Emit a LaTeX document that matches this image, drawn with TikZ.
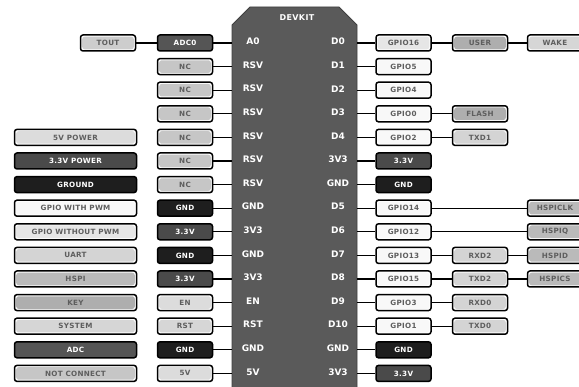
\documentclass[tikz,border=0pt]{standalone}
\usepackage{fontspec}
\setmainfont{DejaVu Sans}
\newfontfamily\boxfont{DejaVu Sans}[LetterSpace=4]
\definecolor{boardc}{HTML}{5A5A5A}
\definecolor{adcc}{HTML}{555555}
\definecolor{vtc}{HTML}{4A4A4A}
\definecolor{gndc}{HTML}{1E1E1E}
\definecolor{ncc}{HTML}{C6C6C6}
\definecolor{vfc}{HTML}{DCDCDC}
\definecolor{gpioc}{HTML}{F8F8F8}
\definecolor{gpionc}{HTML}{E6E6E6}
\definecolor{uartc}{HTML}{D4D4D4}
\definecolor{hspic}{HTML}{BABABA}
\definecolor{keyc}{HTML}{AEAEAE}
\definecolor{sysc}{HTML}{D6D6D6}
\definecolor{toutc}{HTML}{CDCDCD}
\definecolor{txtc}{HTML}{5E5E5E}
\tikzset{
  box/.style={draw=black, line width=1.5pt, rounded corners=2.5pt,
    minimum width=55pt, minimum height=16pt, inner sep=0pt,
    font=\boxfont\fontsize{7.2}{8}\selectfont\bfseries, text=txtc},
  rim/.style={box, fill=white, path picture={\fill[#1]
    ([shift={(1.7pt,-1.7pt)}]path picture bounding box.north west) rectangle
    ([shift={(-1.7pt,1.7pt)}]path picture bounding box.south east);}},
  dark/.style={box, fill=#1, text=white},
  adcbox/.style={dark=adcc},
  vtbox/.style={dark=vtc},
  gndbox/.style={dark=gndc},
  ncbox/.style={rim=ncc},
  vfbox/.style={rim=vfc},
  gpiobox/.style={rim=gpioc},
  gpionbox/.style={rim=gpionc},
  uartbox/.style={rim=uartc},
  hspibox/.style={rim=hspic},
  keybox/.style={rim=keyc},
  sysbox/.style={rim=sysc},
  toutbox/.style={rim=toutc},
  legend/.style={minimum width=122pt},
  pin/.style={text=white, font=\fontsize{9}{10}\selectfont\bfseries, inner sep=0pt},
  wire/.style={line width=1.3pt, black},
}
\begin{document}
\begin{tikzpicture}[x=1pt, y=-1pt]
\useasboundingbox (0,0) rectangle (579,387);
\clip (0,0) rectangle (579,387);
\fill[white] (0,0) rectangle (579,387);
% board
\filldraw[fill=boardc, draw=black!75, line width=0.8pt]
  (232,25) -- (250,7) -- (339,7) -- (357,25) -- (357,395) -- (232,395) -- cycle;
\coordinate (bl) at (232,0);
\coordinate (br) at (357,0);
\node[pin, font=\boxfont\fontsize{8}{9}\selectfont\bfseries] (title) at (297,18) {DEVKIT};
% pin labels
\foreach \i/\t in {0/A0,1/RSV,2/RSV,3/RSV,4/RSV,5/RSV,6/RSV,7/GND,8/3V3,9/GND,10/3V3,11/EN,12/RST,13/GND,14/5V}
  \node[pin] (PL\i) at (253,{41.5+23.6*\i}) {\t};
\foreach \i/\t in {0/D0,1/D1,2/D2,3/D3,4/D4,5/3V3,6/GND,7/D5,8/D6,9/D7,10/D8,11/D9,12/D10,13/GND,14/3V3}
  \node[pin] (PR\i) at (338,{41.5+23.6*\i}) {\t};
% left column
\foreach \i/\t/\s in {0/ADC0/adcbox,1/NC/ncbox,2/NC/ncbox,3/NC/ncbox,4/NC/ncbox,5/NC/ncbox,6/NC/ncbox,7/GND/gndbox,8/3.3V/vtbox,9/GND/gndbox,10/3.3V/vtbox,11/EN/vfbox,12/RST/sysbox,13/GND/gndbox,14/5V/vfbox}{
  \node[\s] (L\i) at (185,{43+23.6*\i}) {\t};
  \draw[wire] (L\i.east) -- (L\i.east -| bl);
}
\node[toutbox] (T0) at (108,43) {TOUT};
\draw[wire] (T0.east) -- (L0.west);
% right column 1
\foreach \i/\t/\s in {0/GPIO16/gpionbox,1/GPIO5/gpiobox,2/GPIO4/gpiobox,3/GPIO0/gpiobox,4/GPIO2/gpiobox,5/3.3V/vtbox,6/GND/gndbox,7/GPIO14/gpiobox,8/GPIO12/gpiobox,9/GPIO13/gpiobox,10/GPIO15/gpiobox,11/GPIO3/gpiobox,12/GPIO1/gpiobox,13/GND/gndbox,14/3.3V/vtbox}{
  \node[\s] (R\i) at (403.5,{43+23.6*\i}) {\t};
  \draw[wire] (R\i.west -| br) -- (R\i.west);
}
% right column 2
\foreach \i/\t/\s in {0/USER/keybox,3/FLASH/keybox,4/TXD1/uartbox,9/RXD2/uartbox,10/TXD2/uartbox,11/RXD0/uartbox,12/TXD0/uartbox}{
  \node[\s] (S\i) at (480,{43+23.6*\i}) {\t};
  \draw[wire] (R\i.east) -- (S\i.west);
}
% right column 3
\node[sysbox] (U0) at (555,43) {WAKE};
\draw[wire] (S0.east) -- (U0.west);
\node[hspibox] (U7) at (555,{43+23.6*7}) {HSPICLK};
\draw[wire] (R7.east) -- (U7.west);
\node[hspibox] (U8) at (555,{43+23.6*8}) {HSPIQ};
\draw[wire] (R8.east) -- (U8.west);
\node[hspibox] (U9) at (555,{43+23.6*9}) {HSPID};
\draw[wire] (S9.east) -- (U9.west);
\node[hspibox] (U10) at (555,{43+23.6*10}) {HSPICS};
\draw[wire] (S10.east) -- (U10.west);
% legend
\node[vfbox, legend] (G4) at (75.5,{43+23.6*4}) {5V POWER};
\node[vtbox, legend] (G5) at (75.5,{43+23.6*5}) {3.3V POWER};
\node[gndbox, legend] (G6) at (75.5,{43+23.6*6}) {GROUND};
\node[gpiobox, legend] (G7) at (75.5,{43+23.6*7}) {GPIO WITH PWM};
\node[gpionbox, legend] (G8) at (75.5,{43+23.6*8}) {GPIO WITHOUT PWM};
\node[uartbox, legend] (G9) at (75.5,{43+23.6*9}) {UART};
\node[hspibox, legend] (G10) at (75.5,{43+23.6*10}) {HSPI};
\node[keybox, legend] (G11) at (75.5,{43+23.6*11}) {KEY};
\node[sysbox, legend] (G12) at (75.5,{43+23.6*12}) {SYSTEM};
\node[adcbox, legend] (G13) at (75.5,{43+23.6*13}) {ADC};
\node[ncbox, legend] (G14) at (75.5,{43+23.6*14}) {NOT CONNECT};
\end{tikzpicture}
\end{document}
